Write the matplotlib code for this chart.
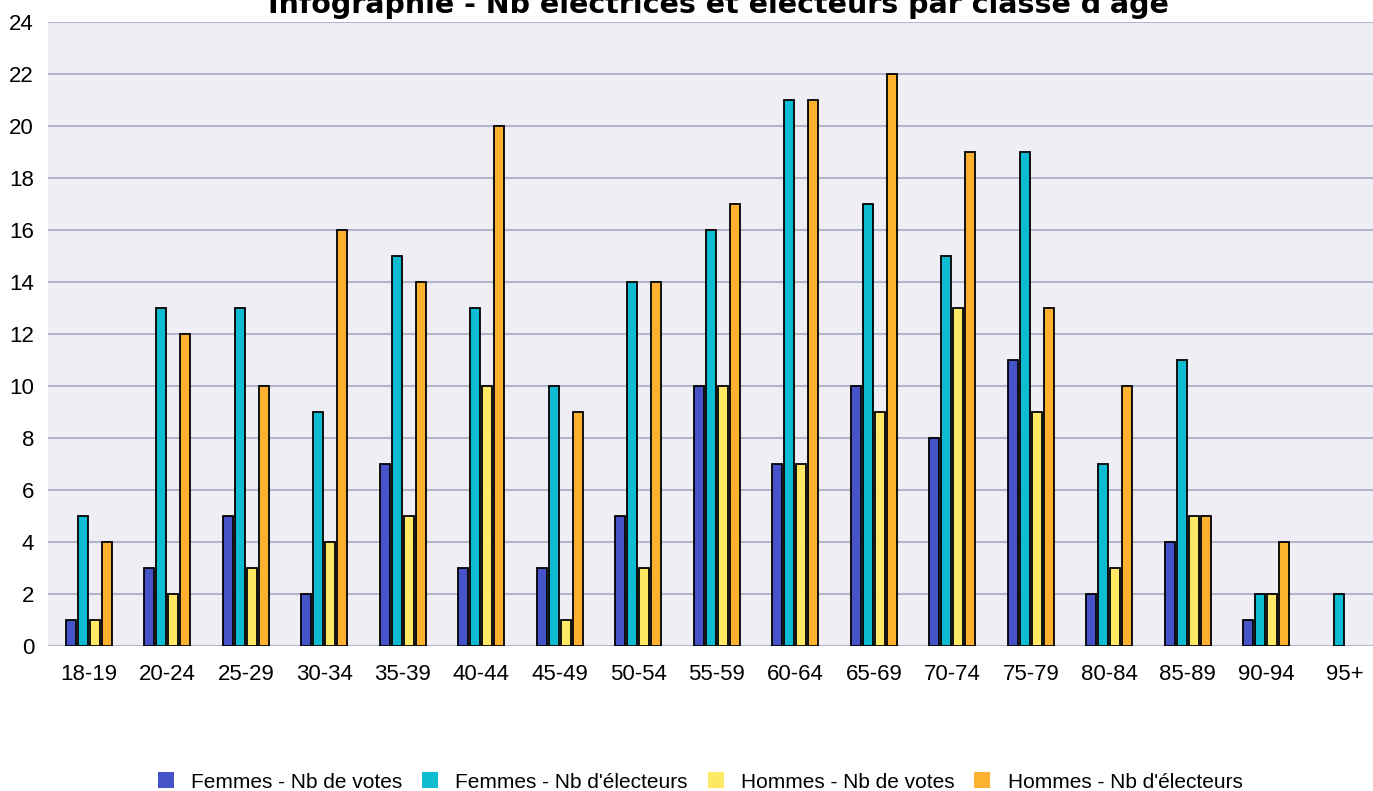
import matplotlib
matplotlib.use("Agg")
import matplotlib.pyplot as plt
import numpy as np

categories = ["18-19", "20-24", "25-29", "30-34", "35-39", "40-44", "45-49", "50-54",
              "55-59", "60-64", "65-69", "70-74", "75-79", "80-84", "85-89", "90-94", "95+"]
femmes_votes = [1, 3, 5, 2, 7, 3, 3, 5, 10, 7, 10, 8, 11, 2, 4, 1, 0]
femmes_electeurs = [5, 13, 13, 9, 15, 13, 10, 14, 16, 21, 17, 15, 19, 7, 11, 2, 2]
hommes_votes = [1, 2, 3, 4, 5, 10, 1, 3, 10, 7, 9, 13, 9, 3, 5, 2, 0]
hommes_electeurs = [4, 12, 10, 16, 14, 20, 9, 14, 17, 21, 22, 19, 13, 10, 5, 4, 0]
series_names = ["Femmes - Nb de votes", "Femmes - Nb d'électeurs",
                "Hommes - Nb de votes", "Hommes - Nb d'électeurs"]
title = "Infographie - Nb électrices et électeurs par classe d'âge"

colors = ["#4753c9", "#0dbcd0", "#ffe863", "#fdb22f"]
W, H = 1373, 791
fig = plt.figure(figsize=(W / 100, H / 100), dpi=100)
ax = fig.add_axes([48 / W, 145 / H, (W - 48) / W, 624 / H])
ax.set_facecolor("#efeef4")
for s in ax.spines.values():
    s.set_visible(False)

x = np.arange(len(categories))
pitch = 0.153
width = 0.125
handles = []
for k, (vals, c) in enumerate(zip([femmes_votes, femmes_electeurs, hommes_votes, hommes_electeurs], colors)):
    vals = np.array(vals)
    m = vals > 0
    b = ax.bar(x[m] + (k - 1.5) * pitch, vals[m], width=width, color=c,
               edgecolor="black", linewidth=1.3, zorder=3, label=series_names[k])
    handles.append(b)

ax.set_ylim(0, 24)
ax.set_yticks(np.arange(0, 25, 2))
ax.set_xlim(-0.52, 16.36)
ax.set_xticks(x)
ax.set_xticklabels(categories)
ax.yaxis.grid(True, color="#b4b4cc", linewidth=1.5, zorder=1)
ax.set_axisbelow(True)
ax.tick_params(axis="both", length=0, labelsize=16)
ax.tick_params(axis="x", pad=13)
ax.tick_params(axis="y", pad=10)
for lab in ax.get_xticklabels() + ax.get_yticklabels():
    lab.set_fontfamily("Liberation Sans")

fig.text(718 / W, 1 - 13 / H, title, ha="center", va="baseline",
         fontsize=20.5, fontweight="bold", family="DejaVu Sans")

leg = fig.legend(handles=handles, labels=series_names, loc="center",
                 bbox_to_anchor=(700 / W, 1 - 782 / H), ncol=4, frameon=False,
                 prop={"family": "Liberation Sans", "size": 15},
                 handlelength=0.77, handleheight=0.77, handletextpad=0.82,
                 columnspacing=0.96, borderaxespad=0)
for p in leg.get_patches():
    p.set_edgecolor("none")

fig.savefig("out.png", dpi=100)
